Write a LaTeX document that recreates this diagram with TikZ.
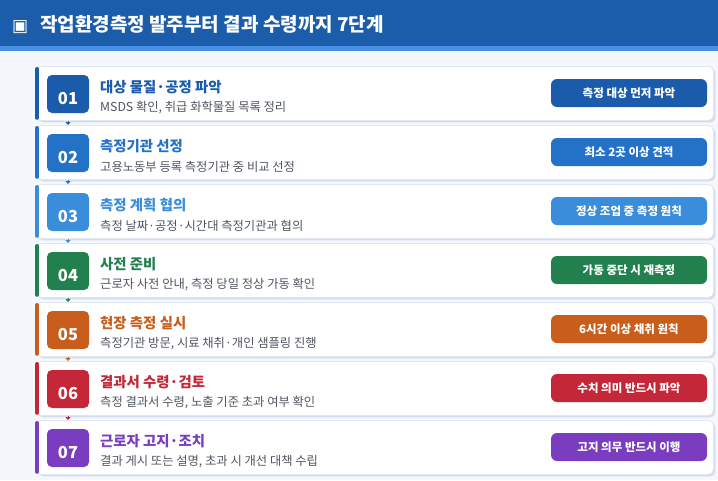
\documentclass[tikz,border=0pt]{standalone}
\usepackage{fontspec}
\setmainfont{Noto Sans CJK KR}
\newfontfamily\symfont{DejaVu Sans}
\usetikzlibrary{shadows,arrows.meta}
\definecolor{headblue}{HTML}{1B5DAA}
\definecolor{headline}{HTML}{4A8FE7}
\definecolor{pagebg}{HTML}{F4F7FC}
\definecolor{cardedge}{HTML}{E1E7F1}
\definecolor{cardshadow}{HTML}{D3DDEF}
\definecolor{notegray}{HTML}{4F5560}
\definecolor{cA}{HTML}{1A5CAB}
\definecolor{cB}{HTML}{2472C8}
\definecolor{cC}{HTML}{3A8DDB}
\definecolor{cD}{HTML}{22804F}
\definecolor{cE}{HTML}{C95D1C}
\definecolor{cF}{HTML}{C42838}
\definecolor{cG}{HTML}{7A3DBF}
\begin{document}
\begin{tikzpicture}[x=1pt,y=-1pt,
    card/.style={anchor=north west,rectangle,rounded corners=5pt,fill=white,draw=cardedge,line width=0.8pt,
      minimum width=677pt,minimum height=54pt,inner sep=0pt,
      drop shadow={shadow xshift=2pt,shadow yshift=-2pt,fill=cardshadow,opacity=1}},
    bar/.style={draw=#1,line width=4pt,line cap=round},
    numbox/.style={fill=#1,rounded corners=5pt,minimum width=42pt,minimum height=38pt,inner sep=0pt,
      text=white,text depth=0pt,text height=20pt,font=\fontsize{16.5}{16.5}\selectfont\bfseries},
    steptitle/.style={anchor=west,inner sep=0pt,text=#1,font=\fontsize{14.4}{14.4}\selectfont\bfseries},
    stepnote/.style={anchor=west,inner sep=0pt,text=notegray,font=\fontsize{12.3}{12.3}\selectfont},
    badge/.style={fill=#1,rounded corners=6pt,minimum width=156pt,minimum height=28pt,inner sep=0pt,
      text=white,font=\fontsize{11.5}{11.5}\selectfont\bfseries},
    conn/.style={draw=#1,line width=1pt,-{Triangle[width=5pt,length=3pt]}}]
  \fill[pagebg] (0,0) rectangle (718,480);
  \useasboundingbox (0,0) rectangle (718,480);
  \fill[headblue] (0,0) rectangle (718,46);
  \fill[headline] (0,46) rectangle (718,51);
  \node[anchor=west,inner sep=0pt,text=white,font=\fontsize{19}{19}\selectfont\bfseries] (head) at (12,24)
    {{\symfont\fontsize{17}{17}\selectfont ▣}\hspace{12pt}작업환경측정 발주부터 결과 수령까지 7단계};

  \node[card] (c1) at (36,66) {};
  \draw[bar=cA] ([xshift=1pt,yshift=-3pt]c1.north west) -- ([xshift=1pt,yshift=3pt]c1.south west);
  \node[numbox=cA] (n1) at (68,94) {01};
  \node[steptitle=cA] (t1) at (100,87) {대상 물질·공정 파악};
  \node[stepnote] (s1) at (100,108) {MSDS 확인, 취급 화학물질 목록 정리};
  \node[badge=cA] (b1) at (629,93) {측정 대상 먼저 파악};

  \node[card] (c2) at (36,125) {};
  \draw[bar=cB] ([xshift=1pt,yshift=-3pt]c2.north west) -- ([xshift=1pt,yshift=3pt]c2.south west);
  \node[numbox=cB] (n2) at (68,153) {02};
  \node[steptitle=cB] (t2) at (100,146) {측정기관 선정};
  \node[stepnote] (s2) at (100,167) {고용노동부 등록 측정기관 중 비교 선정};
  \node[badge=cB] (b2) at (629,152) {최소 2곳 이상 견적};

  \node[card] (c3) at (36,184) {};
  \draw[bar=cC] ([xshift=1pt,yshift=-3pt]c3.north west) -- ([xshift=1pt,yshift=3pt]c3.south west);
  \node[numbox=cC] (n3) at (68,212) {03};
  \node[steptitle=cC] (t3) at (100,205) {측정 계획 협의};
  \node[stepnote] (s3) at (100,226) {측정 날짜·공정·시간대 측정기관과 협의};
  \node[badge=cC] (b3) at (629,211) {정상 조업 중 측정 원칙};

  \node[card] (c4) at (36,243) {};
  \draw[bar=cD] ([xshift=1pt,yshift=-3pt]c4.north west) -- ([xshift=1pt,yshift=3pt]c4.south west);
  \node[numbox=cD] (n4) at (68,271) {04};
  \node[steptitle=cD] (t4) at (100,264) {사전 준비};
  \node[stepnote] (s4) at (100,285) {근로자 사전 안내, 측정 당일 정상 가동 확인};
  \node[badge=cD] (b4) at (629,270) {가동 중단 시 재측정};

  \node[card] (c5) at (36,302) {};
  \draw[bar=cE] ([xshift=1pt,yshift=-3pt]c5.north west) -- ([xshift=1pt,yshift=3pt]c5.south west);
  \node[numbox=cE] (n5) at (68,330) {05};
  \node[steptitle=cE] (t5) at (100,323) {현장 측정 실시};
  \node[stepnote] (s5) at (100,344) {측정기관 방문, 시료 채취·개인 샘플링 진행};
  \node[badge=cE] (b5) at (629,329) {6시간 이상 채취 원칙};

  \node[card] (c6) at (36,361) {};
  \draw[bar=cF] ([xshift=1pt,yshift=-3pt]c6.north west) -- ([xshift=1pt,yshift=3pt]c6.south west);
  \node[numbox=cF] (n6) at (68,389) {06};
  \node[steptitle=cF] (t6) at (100,382) {결과서 수령·검토};
  \node[stepnote] (s6) at (100,403) {측정 결과서 수령, 노출 기준 초과 여부 확인};
  \node[badge=cF] (b6) at (629,388) {수치 의미 반드시 파악};

  \node[card] (c7) at (36,420) {};
  \draw[bar=cG] ([xshift=1pt,yshift=-3pt]c7.north west) -- ([xshift=1pt,yshift=3pt]c7.south west);
  \node[numbox=cG] (n7) at (68,448) {07};
  \node[steptitle=cG] (t7) at (100,441) {근로자 고지·조치};
  \node[stepnote] (s7) at (100,462) {결과 게시 또는 설명, 초과 시 개선 대책 수립};
  \node[badge=cG] (b7) at (629,447) {고지 의무 반드시 이행};

  \draw[conn=cA] (c1.south -| n1.south) -- (c2.north -| n1.south);
  \draw[conn=cB] (c2.south -| n2.south) -- (c3.north -| n2.south);
  \draw[conn=cC] (c3.south -| n3.south) -- (c4.north -| n3.south);
  \draw[conn=cD] (c4.south -| n4.south) -- (c5.north -| n4.south);
  \draw[conn=cE] (c5.south -| n5.south) -- (c6.north -| n5.south);
  \draw[conn=cF] (c6.south -| n6.south) -- (c7.north -| n6.south);
\end{tikzpicture}
\end{document}
